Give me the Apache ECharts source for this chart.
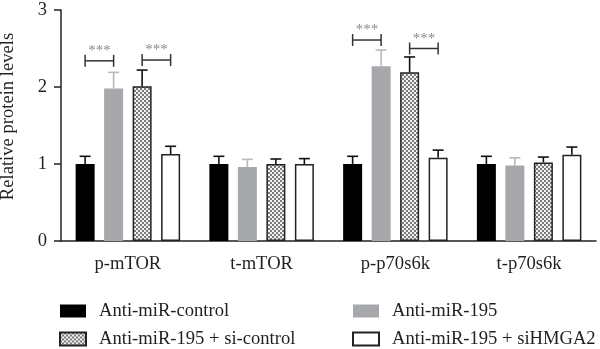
<!DOCTYPE html>
<html>
<head>
<meta charset="utf-8">
<script src="https://cdn.jsdelivr.net/npm/echarts@6/dist/echarts.min.js"></script>
<style>
html,body{margin:0;padding:0;background:#fff;}
#chart{width:600px;height:349px;}
</style>
</head>
<body>
<div id="chart"></div>
<script>
// ---- data ----
var categories = ['p-mTOR', 't-mTOR', 'p-p70s6k', 't-p70s6k'];
var seriesNames = ['Anti-miR-control', 'Anti-miR-195', 'Anti-miR-195 + si-control', 'Anti-miR-195 + siHMGA2'];
var ctrlValues   = [1.00, 1.00, 1.00, 1.00];
var ctrlUpper    = [1.10, 1.10, 1.10, 1.10];
var mir195Values = [1.98, 0.96, 2.27, 0.98];
var mir195Upper  = [2.19, 1.06, 2.48, 1.08];
var siCtrlValues = [2.01, 1.00, 2.19, 1.02];
var siCtrlUpper  = [2.22, 1.065, 2.39, 1.09];
var siHmgValues  = [1.13, 1.00, 1.08, 1.12];
var siHmgUpper   = [1.23, 1.07, 1.18, 1.22];
var yTicks = [0, 1, 2, 3];
// significance brackets: [categoryIndex, fromSeries, toSeries, yValue, label]
var brackets = [
  [0, 0, 1, 2.34, '***'],
  [0, 2, 3, 2.35, '***'],
  [2, 0, 1, 2.61, '***'],
  [2, 2, 3, 2.50, '***']
];

// ---- layout/style constants ----
var FONT = 'Liberation Serif';
var FS = 18.6;
var TXT = '#231f20';
var BAR_W = 19;
var BAR_GAP = 0.5;
var N_SERIES = 4;
function barOffset(i) {
  var gap = BAR_W * BAR_GAP;
  var total = N_SERIES * BAR_W + (N_SERIES - 1) * gap;
  return -total / 2 + BAR_W / 2 + i * (BAR_W + gap);
}

var pc = document.createElement('canvas');
pc.width = 4; pc.height = 4;
var pctx = pc.getContext('2d');
pctx.fillStyle = '#f2f2f2'; pctx.fillRect(0, 0, 4, 4);
pctx.fillStyle = '#7c7c7c';
pctx.fillRect(0, 0, 2, 2); pctx.fillRect(2, 2, 2, 2);
var patternFill = { image: pc, repeat: 'repeat' };

function barSeries(name, values, style) {
  return {
    name: name, type: 'bar', barWidth: BAR_W, barGap: (BAR_GAP * 100) + '%',
    data: values, itemStyle: style, z: 2
  };
}

function errSeries(idx, values, upper, color) {
  return {
    type: 'custom', silent: true, z: 4,
    encode: { x: 0, y: [1, 2] },
    renderItem: function (params, api) {
      var cat = api.value(0);
      var p0 = api.coord([cat, api.value(1)]);
      var p1 = api.coord([cat, api.value(2)]);
      var x = p0[0] + barOffset(idx);
      var half = 5.5;
      return {
        type: 'group',
        children: [
          { type: 'line', shape: { x1: x, y1: p0[1], x2: x, y2: p1[1] }, style: { stroke: color, lineWidth: 1.6 } },
          { type: 'line', shape: { x1: x - half, y1: p1[1], x2: x + half, y2: p1[1] }, style: { stroke: color, lineWidth: 1.6 } }
        ]
      };
    },
    data: values.map(function (v, i) { return [i, v, upper[i]]; })
  };
}

var bracketSeries = {
  type: 'custom', silent: true, z: 5,
  encode: { x: 0, y: 3 },
  renderItem: function (params, api) {
    var b = brackets[params.dataIndex];
    var c = api.coord([b[0], b[3]]);
    var x1 = c[0] + barOffset(b[1]);
    var x2 = c[0] + barOffset(b[2]);
    var y = c[1];
    var st = { stroke: '#333', lineWidth: 1.5 };
    return {
      type: 'group',
      children: [
        { type: 'line', shape: { x1: x1, y1: y, x2: x2, y2: y }, style: st },
        { type: 'line', shape: { x1: x1, y1: y - 6, x2: x1, y2: y + 6 }, style: st },
        { type: 'line', shape: { x1: x2, y1: y - 6, x2: x2, y2: y + 6 }, style: st },
        { type: 'text', style: { text: b[4], x: (x1 + x2) / 2, y: y - 2, align: 'center', verticalAlign: 'bottom',
          font: '15px ' + FONT, fill: '#8a8a8a' } }
      ]
    };
  },
  data: brackets.map(function (b) { return [b[0], b[1], b[2], b[3]]; })
};

var legendCommon = {
  orient: 'vertical', icon: 'rect', itemWidth: 26, itemHeight: 13, itemGap: 9, padding: 0,
  height: 60,
  textStyle: { fontFamily: FONT, fontSize: FS, color: TXT, lineHeight: 18, padding: [0, 0, 0, 8] },
  selectedMode: false
};

var chart = echarts.init(document.getElementById('chart'), null, { renderer: 'canvas' });
chart.setOption({
  animation: false,
  backgroundColor: '#fff',
  grid: { left: 61, right: 4, top: 10, bottom: 108, containLabel: false, outerBoundsMode: 'none' },
  legend: [
    Object.assign({}, legendCommon, { left: 59, top: 301.5, data: [seriesNames[0], seriesNames[2]] }),
    Object.assign({}, legendCommon, { left: 352, top: 301.5, data: [seriesNames[1], seriesNames[3]] })
  ],
  xAxis: {
    type: 'category', data: categories,
    axisLine: { lineStyle: { color: '#222', width: 1.5 } },
    axisTick: { alignWithLabel: true, length: 6, lineStyle: { color: '#222', width: 1.5 } },
    axisLabel: { fontFamily: FONT, fontSize: FS, color: TXT, margin: 14 }
  },
  yAxis: {
    type: 'value', min: yTicks[0], max: yTicks[yTicks.length - 1], interval: 1,
    name: 'Relative protein levels', nameLocation: 'middle', nameGap: 43,
    nameTextStyle: { fontFamily: FONT, fontSize: FS, color: TXT, padding: [0, 0, 0, 18] },
    splitLine: { show: false },
    axisLine: { show: true, lineStyle: { color: '#222', width: 1.5 } },
    axisTick: { show: true, length: 7, lineStyle: { color: '#222', width: 1.5 } },
    axisLabel: { fontFamily: FONT, fontSize: FS, color: TXT, margin: 14 }
  },
  series: [
    barSeries(seriesNames[0], ctrlValues, { color: '#000' }),
    barSeries(seriesNames[1], mir195Values, { color: '#a7a8ab' }),
    barSeries(seriesNames[2], siCtrlValues, { color: patternFill, borderColor: '#222', borderWidth: 1.5 }),
    barSeries(seriesNames[3], siHmgValues, { color: '#fff', borderColor: '#222', borderWidth: 1.5 }),
    errSeries(0, ctrlValues, ctrlUpper, '#111'),
    errSeries(1, mir195Values, mir195Upper, '#b9b9bb'),
    errSeries(2, siCtrlValues, siCtrlUpper, '#111'),
    errSeries(3, siHmgValues, siHmgUpper, '#111'),
    bracketSeries
  ]
});
</script>
</body>
</html>
